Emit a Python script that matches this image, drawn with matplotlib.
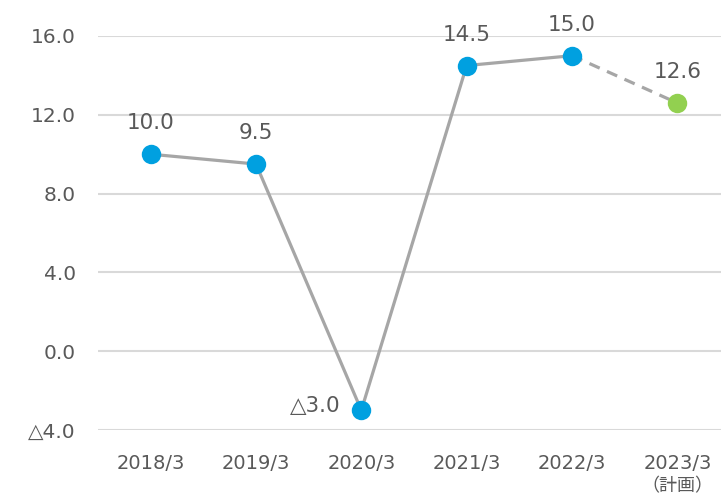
import matplotlib
matplotlib.use("Agg")
import matplotlib.pyplot as plt
import matplotlib.transforms as mtransforms

categories = ["2018/3", "2019/3", "2020/3", "2021/3", "2022/3", "2023/3"]
category_notes = ["", "", "", "", "", "（計画）"]
values = [10.0, 9.5, -3.0, 14.5, 15.0, 12.6]
value_labels = ["10.0", "9.5", "△3.0", "14.5", "15.0", "12.6"]
yticks = [-4, 0, 4, 8, 12, 16]
ytick_labels = ["△4.0", "0.0", "4.0", "8.0", "12.0", "16.0"]

fam = ["DejaVu Sans", "Noto Sans CJK JP"]
plt.rcParams['font.family'] = fam
txt = "#595959"

fig = plt.figure(figsize=(7.21, 5.04), dpi=100)
ax = fig.add_axes([98/721, 1 - 430/504, 632/721, 394/504])
x = list(range(len(values)))

ax.plot(x[:5], values[:5], color="#A6A6A6", lw=2.3, zorder=2)
ax.plot(x[4:], values[4:], color="#A6A6A6", lw=2.3, ls=(0, (3.5, 2.5)), zorder=2)
ax.plot(x[:5], values[:5], "o", color="#00A0E0", ms=14, mec="none", zorder=3)
ax.plot(x[5:], values[5:], "o", color="#92D050", ms=14, mec="none", zorder=3)

for i, (v, lab) in enumerate(zip(values, value_labels)):
    if v < 0:
        ax.annotate(lab, (i, v), xytext=(-15, 3), textcoords="offset points",
                    ha="right", va="center", fontsize=15.5, color=txt)
    else:
        ax.annotate(lab, (i, v), xytext=(0, 15), textcoords="offset points",
                    ha="center", va="bottom", fontsize=15.5, color=txt)

ax.set_xlim(-0.5, 5.5)
ax.set_ylim(-4, 16)
ax.set_yticks(yticks)
ax.set_yticklabels(ytick_labels, fontsize=14.5, color=txt)
ax.set_xticks(x)
ax.set_xticklabels(categories, fontsize=14, color=txt)
ax.tick_params(length=0, pad=16)
ax.tick_params(axis="x", pad=17)
ax.grid(axis="y", color="#D9D9D9", lw=1.5)
ax.set_axisbelow(True)
for s in ax.spines.values():
    s.set_visible(False)

trans = mtransforms.blended_transform_factory(ax.transData, ax.transAxes)
for i, note in enumerate(category_notes):
    if note:
        ax.text(i, -0.143, note, transform=trans, ha="center", va="center",
                fontsize=13, color=txt, family=["Noto Sans CJK JP"])

fig.savefig("out.png", dpi=100)
